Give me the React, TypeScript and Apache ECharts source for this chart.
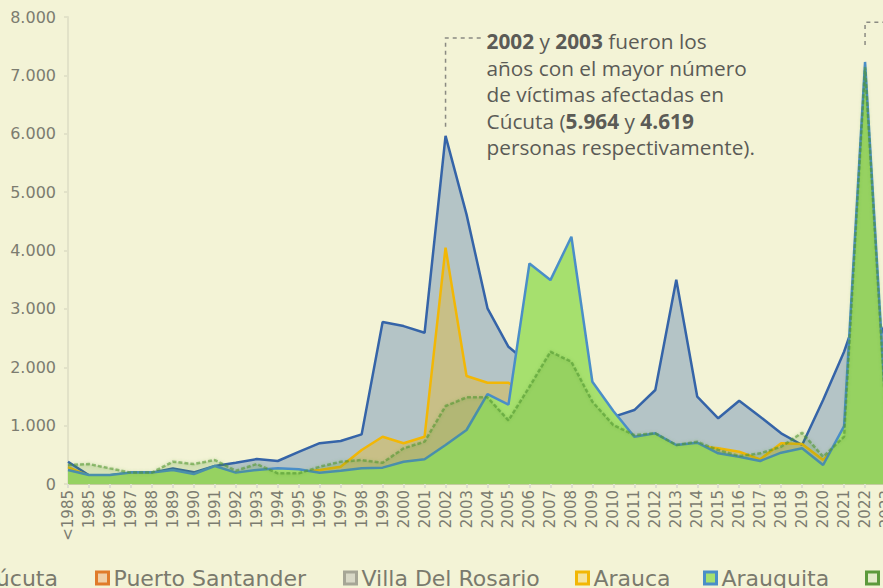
import React, { useEffect, useRef } from 'react';
import * as echarts from 'echarts';

const categories = [
  '<1985', '1985', '1986', '1987', '1988', '1989', '1990', '1991', '1992', '1993',
  '1994', '1995', '1996', '1997', '1998', '1999', '2000', '2001', '2002', '2003',
  '2004', '2005', '2006', '2007', '2008', '2009', '2010', '2011', '2012', '2013',
  '2014', '2015', '2016', '2017', '2018', '2019', '2020', '2021', '2022', '2023', '2024',
];

const cucuta = [
  380, 150, 150, 195, 195, 268, 200, 308, 365, 428,
  394, 550, 700, 736, 850, 2775, 2705, 2590, 5964, 4619,
  3010, 2350, 2050, 1850, 1700, 1400, 1150, 1267, 1610, 3500,
  1495, 1125, 1427, 1152, 868, 668, 1440, 2266, 3300, 2500, 1800,
];

const puertoSantander = [
  40, 30, 30, 40, 50, 60, 50, 70, 60, 60,
  80, 90, 100, 110, 120, 150, 140, 160, 200, 220,
  180, 150, 140, 130, 120, 100, 90, 80, 80, 70,
  60, 70, 60, 50, 70, 80, 60, 90, 100, 80, 60,
];

const villaDelRosario = [
  60, 50, 50, 60, 70, 80, 70, 90, 80, 90,
  100, 110, 120, 130, 150, 180, 170, 190, 300, 280,
  250, 220, 200, 180, 160, 140, 120, 110, 120, 110,
  100, 90, 100, 90, 110, 120, 100, 130, 180, 150, 120,
];

const arauca = [
  290, 140, 120, 130, 150, 180, 140, 200, 150, 180,
  200, 200, 240, 296, 582, 810, 697, 810, 4050, 1849,
  1735, 1735, 1500, 1400, 1300, 1000, 900, 700, 700, 600,
  650, 611, 553, 423, 697, 685, 411, 800, 900, 700, 500,
];

const arauquita = [
  240, 154, 154, 195, 195, 240, 171, 308, 195, 240,
  268, 251, 194, 228, 268, 280, 382, 423, 668, 925,
  1541, 1360, 3779, 3493, 4235, 1752, 1250, 810, 868, 668,
  708, 525, 468, 394, 536, 611, 325, 993, 7230, 1200, 700,
];

const saravena = [
  325, 342, 268, 195, 195, 382, 342, 411, 228, 342,
  183, 183, 296, 382, 411, 365, 611, 725, 1336, 1484,
  1484, 1090, 1666, 2266, 2095, 1410, 1010, 839, 868, 668,
  725, 582, 480, 525, 639, 879, 468, 810, 7140, 1100, 600,
];

const seriesNames = ['Cúcuta', 'Puerto Santander', 'Villa Del Rosario', 'Arauca', 'Arauquita', 'Saravena'];
const legendLefts = [62, 195, 443, 675, 803, 965];

const FONT = "'DejaVu Sans', sans-serif";
const TEXT_FONT = "'Open Sans', 'Noto Sans', sans-serif";
const BG = '#f3f3d6';
const OFFSET_X = 100;
const CHART_W = 1100;
const CHART_H = 588;

export default function App() {
  const ref = useRef<HTMLDivElement>(null);

  useEffect(() => {
    if (!ref.current) return;
    const chart = echarts.init(ref.current, null, { renderer: 'svg' });

    const styles = [
      { line: '#3564a8', area: 'rgba(53,101,168,0.33)', legendFill: '#c6d0d6' },
      { line: '#e07b2a', area: 'rgba(224,123,42,0.35)', legendFill: '#f0cfa6' },
      { line: '#a6a696', area: 'rgba(150,150,130,0.35)', legendFill: '#d8d8c6' },
      { line: '#f2b705', area: 'rgba(242,183,5,0.33)', legendFill: '#f4e39e' },
      { line: '#4a8ec8', area: '#a6e06e', legendFill: '#a6e06e' },
      { line: 'rgba(78,150,48,0.55)', area: 'rgba(80,150,40,0.18)', legendFill: '#e3ecc9' },
    ];
    const datas = [cucuta, puertoSantander, villaDelRosario, arauca, arauquita, saravena];

    const series = seriesNames.map((name, i) => ({
      name,
      type: 'line',
      data: datas[i],
      symbol: 'none',
      showSymbol: false,
      z: 2 + i,
      itemStyle: { color: styles[i].line },
      lineStyle: i === 5
        ? { color: styles[i].line, width: 2.5, type: [4, 2], shadowBlur: 3, shadowColor: 'rgba(78,150,48,0.5)' }
        : { color: styles[i].line, width: 2.5 },
      areaStyle: { color: styles[i].area, opacity: 1 },
    }));

    const legends = seriesNames.map((name, i) => ({
      data: [{
        name,
        icon: 'rect',
        itemStyle: { color: styles[i].legendFill, borderColor: i === 5 ? '#5c9a3c' : styles[i].line, borderWidth: 3 },
      }],
      left: legendLefts[i],
      top: 567,
      padding: 0,
      itemWidth: 12,
      itemHeight: 12,
      itemGap: 0,
      selectedMode: false,
      textStyle: { fontSize: 22, color: '#7a7a6d', fontFamily: FONT },
    }));

    chart.setOption({
      animation: false,
      backgroundColor: BG,
      textStyle: { fontFamily: FONT },
      grid: { left: 168, right: 93, top: 17, bottom: 104, containLabel: false },
      legend: legends,
      xAxis: {
        type: 'category',
        data: categories,
        boundaryGap: false,
        axisLine: { show: true, lineStyle: { color: '#c4cda0', width: 2 } },
        axisTick: { show: true, length: 4, lineStyle: { color: '#deded0', width: 2 } },
        axisLabel: { rotate: 90, interval: 0, fontSize: 15, color: '#7c7c70', fontFamily: FONT, margin: 6 },
        splitLine: { show: false },
      },
      yAxis: {
        type: 'value',
        min: 0,
        max: 8000,
        interval: 1000,
        axisLine: { show: true, lineStyle: { color: '#e2e2c8', width: 2 } },
        axisTick: { show: true, length: 4, lineStyle: { color: '#e2e2c8', width: 2 } },
        splitLine: { show: false },
        axisLabel: {
          fontSize: 16,
          color: '#7c7c70',
          fontFamily: FONT,
          margin: 12,
          formatter: (v: number) => (v === 0 ? '0' : `${Math.round(v / 1000)}.000`),
        },
      },
      series,
    });

    const p02 = chart.convertToPixel({ gridIndex: 0 }, [18, 5964]) as number[];
    const yTop1 = (chart.convertToPixel({ gridIndex: 0 }, [18, 7640]) as number[])[1];
    const p22 = chart.convertToPixel({ gridIndex: 0 }, [38, 7230]) as number[];
    const yTop2 = (chart.convertToPixel({ gridIndex: 0 }, [38, 7910]) as number[])[1];

    const dash = { stroke: '#8a8a82', lineWidth: 1.5, lineDash: [4, 4] };
    const n = { fontSize: 20.8, fontFamily: TEXT_FONT, fill: '#5b5b56', lineHeight: 26.5 };
    const b = { ...n, fontWeight: 'bold' };

    chart.setOption({
      graphic: [
        { type: 'polyline', z: 100, shape: { points: [[p02[0], p02[1] - 9], [p02[0], yTop1], [p02[0] + 38, yTop1]] }, style: { ...dash, fill: null } },
        {
          type: 'text',
          z: 100,
          x: p02[0] + 41,
          y: yTop1 - 10,
          style: {
            text: '{b|2002}{n| y }{b|2003}{n| fueron los}\n{n|años con el mayor número}\n{n|de víctimas afectadas en}\n{n|Cúcuta (}{b|5.964}{n| y }{b|4.619}\n{n|personas respectivamente).}',
            rich: { n, b },
            ...n,
            verticalAlign: 'top',
          },
        },
        { type: 'polyline', z: 100, shape: { points: [[p22[0], p22[1] - 17], [p22[0], yTop2], [p22[0] + 60, yTop2]] }, style: { ...dash, fill: null } },
      ],
    });

    return () => chart.dispose();
  }, []);

  return (
    <div style={{ position: 'fixed', left: 0, top: 0, width: 883, height: 588, overflow: 'hidden', background: BG }}>
      <div ref={ref} style={{ position: 'absolute', left: -OFFSET_X, top: 0, width: CHART_W, height: CHART_H }} />
    </div>
  );
}
